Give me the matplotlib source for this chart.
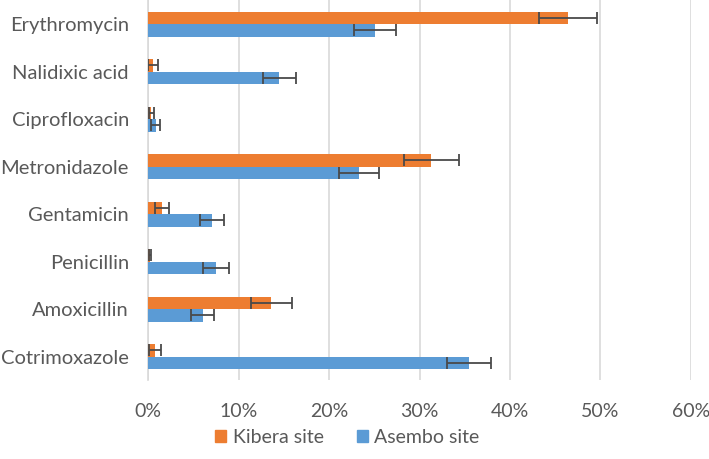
import matplotlib
matplotlib.use("Agg")
import matplotlib.pyplot as plt
import numpy as np
from matplotlib.patches import Patch

categories = ["Erythromycin", "Nalidixic acid", "Ciprofloxacin", "Metronidazole",
              "Gentamicin", "Penicillin", "Amoxicillin", "Cotrimoxazole"]
kibera = [46.4, 0.5, 0.35, 31.3, 1.5, 0.15, 13.6, 0.7]
kibera_err = [3.2, 0.55, 0.3, 3.05, 0.8, 0.13, 2.25, 0.65]
asembo = [25.1, 14.5, 0.8, 23.3, 7.0, 7.5, 6.0, 35.5]
asembo_err = [2.35, 1.8, 0.45, 2.2, 1.33, 1.42, 1.3, 2.46]
xticks = [0, 10, 20, 30, 40, 50, 60]
xticklabels = ["0%", "10%", "20%", "30%", "40%", "50%", "60%"]

plt.rcParams['font.family'] = ['Lato', 'DejaVu Sans']
txt = "#595959"
fig = plt.figure(figsize=(7.09, 4.59), dpi=100)
ax = fig.add_axes([0.2092, 0.1713, 0.7650, 0.828])

y = np.arange(len(categories))
h = 0.263
ekw = dict(ecolor="#4a4a4a", elinewidth=1.3, capsize=4.2, capthick=1.3)
ax.barh(y - h/2, kibera, height=h, color="#ED7D31", xerr=kibera_err, error_kw=ekw, zorder=3, label="Kibera site")
ax.barh(y + h/2, asembo, height=h, color="#5B9BD5", xerr=asembo_err, error_kw=ekw, zorder=3, label="Asembo site")

ax.set_xlim(0, 60)
ax.set_ylim(len(categories) - 0.5, -0.5)
ax.set_yticks(y)
ax.set_yticklabels(categories)
ax.set_xticks(xticks)
ax.set_xticklabels(xticklabels)
ax.tick_params(axis='both', length=0, labelcolor=txt)
ax.tick_params(axis='y', pad=14, labelsize=14.5)
ax.tick_params(axis='x', pad=16, labelsize=14)
ax.grid(axis='x', color="#d9d9d9", linewidth=1.2, zorder=0)
for s in ['top', 'right', 'bottom']:
    ax.spines[s].set_visible(False)
ax.spines['left'].set_color("#d9d9d9")
ax.spines['left'].set_linewidth(1.2)

handles = [Patch(color="#ED7D31", label="Kibera site"), Patch(color="#5B9BD5", label="Asembo site")]
fig.legend(handles=handles, loc="lower center", bbox_to_anchor=(0.49, -0.01), ncol=2, frameon=False,
           fontsize=14, labelcolor=txt, handlelength=0.55, handleheight=0.55, handletextpad=0.35, columnspacing=1.7)

fig.savefig("out.png", dpi=100)
